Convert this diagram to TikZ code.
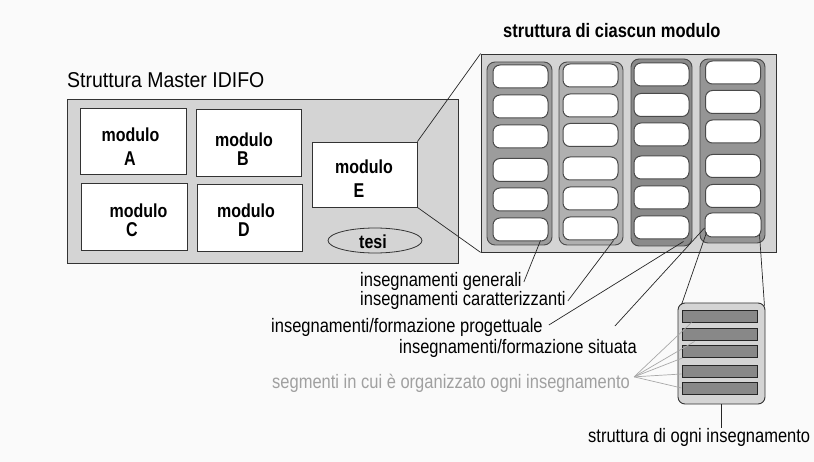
\documentclass[tikz,border=0pt]{standalone}
\usepackage{fontspec}
\setmainfont{Liberation Sans}
\usetikzlibrary{shapes.geometric}
\definecolor{bg}{HTML}{FAFAFA}
\definecolor{lg}{HTML}{D4D4D4}
\definecolor{cola}{HTML}{9C9C9C}
\definecolor{colb}{HTML}{B0B0B0}
\definecolor{colc}{HTML}{8A8A8A}
\definecolor{cold}{HTML}{959595}
\definecolor{edge}{HTML}{4A4A4A}
\definecolor{barg}{HTML}{888888}
\definecolor{fang}{HTML}{A8A8A8}
\definecolor{segtext}{HTML}{A0A0A0}
\newcommand{\vst}[1]{\scalebox{1}[1.18]{#1}}
\newcommand{\vstt}[1]{\scalebox{1}[1.1]{#1}}
\begin{document}
\begin{tikzpicture}[x=1pt,y=-1pt,
  box/.style={draw=black!80, line width=0.8pt, inner sep=0pt, rectangle},
  bigbox/.style={box, fill=lg},
  modbox/.style={box, fill=white},
  colbox/.style={draw=edge, line width=0.9pt, rounded corners=8pt, inner sep=0pt},
  pill/.style={draw=edge, line width=1pt, fill=white, rounded corners=7pt,
    minimum width=55pt, minimum height=23pt, inner sep=0pt},
  bar/.style={draw=black!85, fill=barg, line width=0.9pt,
    minimum width=75pt, minimum height=12pt, inner sep=0pt},
  lbl/.style={font=\fontsize{16.5}{19}\selectfont, inner sep=0pt},
  ttl/.style={font=\fontsize{19.5}{22}\selectfont, inner sep=0pt},
  bld/.style={font=\fontsize{16}{19}\selectfont\bfseries, inner sep=0pt},
  conn/.style={draw=black!85, line width=0.7pt},
  fan/.style={draw=fang, line width=0.7pt}]
\useasboundingbox[fill=bg] (0,0) rectangle (814,462);

% left: master structure
\node[ttl, anchor=base west] (title) at (67,88) {\vstt{Struttura Master IDIFO}};
\node[bigbox, minimum width=391pt, minimum height=164pt] (lb) at (262.5,181) {};
\node[modbox, minimum width=106pt, minimum height=66pt] (mA) at (133,141) {};
\node[modbox, minimum width=105pt, minimum height=67pt] (mB) at (248.5,142.5) {};
\node[modbox, minimum width=106pt, minimum height=67pt] (mC) at (134,216.5) {};
\node[modbox, minimum width=105pt, minimum height=67pt] (mD) at (249.5,217.5) {};
\node[modbox, minimum width=105pt, minimum height=65pt] (mE) at (364.5,174.5) {};
\node[bld, anchor=base] (tA1) at (130.5,142) {\vst{modulo}};
\node[bld, anchor=base] (tA2) at (130,166) {\scalebox{1}[1.25]{A}};
\node[bld, anchor=base] (tB1) at (244,147) {\vst{modulo}};
\node[bld, anchor=base] (tB2) at (243,166) {\scalebox{1}[1.25]{B}};
\node[bld, anchor=base] (tC1) at (138.5,218) {\vst{modulo}};
\node[bld, anchor=base] (tC2) at (132,237) {\scalebox{1}[1.25]{C}};
\node[bld, anchor=base] (tD1) at (246,218) {\vst{modulo}};
\node[bld, anchor=base] (tD2) at (244,237) {\scalebox{1}[1.25]{D}};
\node[bld, anchor=base] (tE1) at (364,174) {\vst{modulo}};
\node[bld, anchor=base] (tE2) at (359,198) {\scalebox{1}[1.25]{E}};
\node[ellipse, draw=black!80, line width=0.8pt, fill=lg, minimum width=94pt,
  minimum height=25pt, inner sep=0pt] (tesi) at (375,240.5) {};
\node[bld, anchor=base] (tesit) at (373,249) {\vst{tesi}};

% right: structure of each module
\node[anchor=base west, inner sep=0pt, font=\fontsize{16.5}{19}\selectfont\bfseries] (title2) at (503,38) {\vst{struttura di ciascun modulo}};
\node[bigbox, minimum width=295pt, minimum height=198pt] (rb) at (628.5,153) {};
\node[colbox, fill=cola, minimum width=65pt, minimum height=183pt] (c1) at (519.5,153.5) {};
\node[colbox, fill=colb, minimum width=64pt, minimum height=183pt] (c2) at (591,153.5) {};
\node[colbox, fill=colc, minimum width=61pt, minimum height=187pt] (c3) at (661.5,152.5) {};
\node[colbox, fill=cold, minimum width=65pt, minimum height=184pt] (c4) at (732.5,151) {};
\foreach \y [count=\i] in {76.5,106.5,136.5,170,199.5,229.5}
  \node[pill] (p1\i) at (520.5,\y) {};
\foreach \y [count=\i] in {75.5,105.5,135,168.5,198.5,228.5}
  \node[pill] (p2\i) at (590.5,\y) {};
\foreach \y [count=\i] in {74.5,105,134.5,167.5,197.5,227.5}
  \node[pill] (p3\i) at (661.5,\y) {};
\foreach \y [count=\i] in {72.5,102,131.5,166,196}
  \node[pill] (p4\i) at (733,\y) {};
\node[pill, draw=black!70, minimum width=56pt, minimum height=24pt] (p46) at (733,225) {};

% zoom lines module E -> structure
\draw[conn] (mE.north east) -- (rb.north west);
\draw[conn] (mE.south east) -- (rb.south west);

% labels of the four kinds of teaching
\node[lbl, anchor=base west] (lgen) at (360,287) {\vst{insegnamenti generali}};
\node[lbl, anchor=base west] (lcar) at (360,306) {\vst{insegnamenti caratterizzanti}};
\node[lbl, anchor=base west] (lprog) at (271,333) {\vst{insegnamenti/formazione progettuale}};
\node[lbl, anchor=base west] (lsit) at (399,353) {\vst{insegnamenti/formazione situata}};
\draw[conn] ([xshift=2pt]lgen.east) -- ([xshift=-8pt,yshift=1pt]p16.south east);
\draw[conn] ([xshift=2pt]lcar.east) -- ([xshift=-5pt]p26.south east);
\draw[conn] ([xshift=6pt,yshift=3pt]lprog.east) -- ([xshift=-6pt,yshift=-2pt]p36.south east);
\draw[conn] ([xshift=-22pt,yshift=22pt]lsit.east) -- ([yshift=-3pt]p46.west);

% structure of each teaching
\node[draw=black!80, line width=0.9pt, fill=lg, rounded corners=7pt, inner sep=0pt,
  minimum width=87pt, minimum height=101pt] (sbox) at (721.5,353.5) {};
\node[bar] (b1) at (719.5,316) {};
\node[bar] (b2) at (719.5,334) {};
\node[bar] (b3) at (719.5,351.5) {};
\node[bar] (b4) at (719.5,371) {};
\node[bar] (b5) at (719.5,388) {};
\draw[conn] ([xshift=2pt,yshift=5pt]p46.south west) -- ([xshift=4pt,yshift=-2pt]sbox.north west);
\draw[conn] ([xshift=-2pt,yshift=3pt]p46.south east) -- ([xshift=-1pt,yshift=-3pt]sbox.north east);

\node[lbl, anchor=base west, text=segtext] (lseg) at (272,388) {\vst{segmenti in cui è organizzato ogni insegnamento}};
\coordinate (fanpt) at ([xshift=4pt,yshift=6pt]lseg.east);
\draw[fan] (fanpt) -- ([xshift=10pt]b1.south west);
\draw[fan] (fanpt) -- ([xshift=13pt,yshift=-1pt]b2.south west);
\draw[fan] (fanpt) -- ([xshift=1pt]b3.south west);
\draw[fan] (fanpt) -- ([yshift=-3pt]b4.west);
\draw[fan] (fanpt) -- (b5.west);

\node[lbl, anchor=base west] (lstr) at (588,442) {\vst{struttura di ogni insegnamento}};
\draw[conn] (sbox.south) -- (sbox.south |- lstr.north);
\end{tikzpicture}
\end{document}
